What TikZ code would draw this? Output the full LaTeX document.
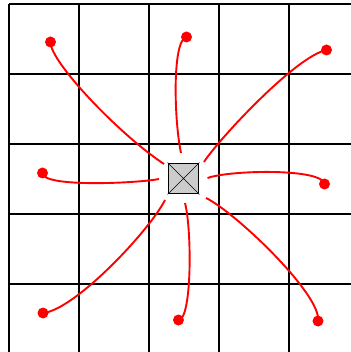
\documentclass[tikz,border=0pt]{standalone}
\begin{document}
\begin{tikzpicture}[x=1pt,y=-1pt,
  gridline/.style={line width=2pt,black},
  wire/.style={red,line width=1.9pt},
  dot/.style={circle,fill=red,inner sep=0pt,minimum size=11pt},
  box/.style={draw=black,line width=1.8pt,fill=black!20,minimum size=30pt,inner sep=0pt}]
\useasboundingbox (0,0) rectangle (350,352);
% grid
\foreach \x in {9,79,149,219,289} \draw[gridline] (\x,4) -- (\x,353);
\foreach \y in {4,74,144,213.5,283.5} \draw[gridline] (9,\y) -- (351,\y);
% centre box
\node[box] (c) at (183.5,178.5) {};
\draw[line width=0.6pt] (c.north west) -- (c.south east) (c.north east) -- (c.south west);
% dots
\node[dot] (d1) at (50.5,42) {};
\node[dot] (d2) at (186.5,37) {};
\node[dot] (d3) at (326.5,50) {};
\node[dot] (d4) at (42.5,173) {};
\node[dot] (d5) at (324.5,184) {};
\node[dot] (d6) at (43,313) {};
\node[dot] (d7) at (178.5,320) {};
\node[dot] (d8) at (318,321) {};
% free ends near the box
\coordinate (s1) at (164,164);
\coordinate (s2) at (181,153);
\coordinate (s3) at (204,162);
\coordinate (s4) at (159,179);
\coordinate (s5) at (207.5,178);
\coordinate (s6) at (165,200);
\coordinate (s7) at (185,203);
\coordinate (s8) at (206,198);
% wires
\draw[wire] (s1) .. controls (120,135) and (50,62) .. (d1.center);
\draw[wire] (s2) .. controls (174,120) and (172,40) .. (d2.center);
\draw[wire] (s3) .. controls (218,140) and (296,56) .. (d3.center);
\draw[wire] (s4) .. controls (140,183) and (42,188) .. (d4.center);
\draw[wire] (s5) .. controls (230,170) and (322,168) .. (d5.center);
\draw[wire] (s6) .. controls (150,230) and (75,310) .. (d6.center);
\draw[wire] (s7) .. controls (192,230) and (192,320) .. (d7.center);
\draw[wire] (s8) .. controls (235,212) and (322,295) .. (d8.center);
\end{tikzpicture}
\end{document}
